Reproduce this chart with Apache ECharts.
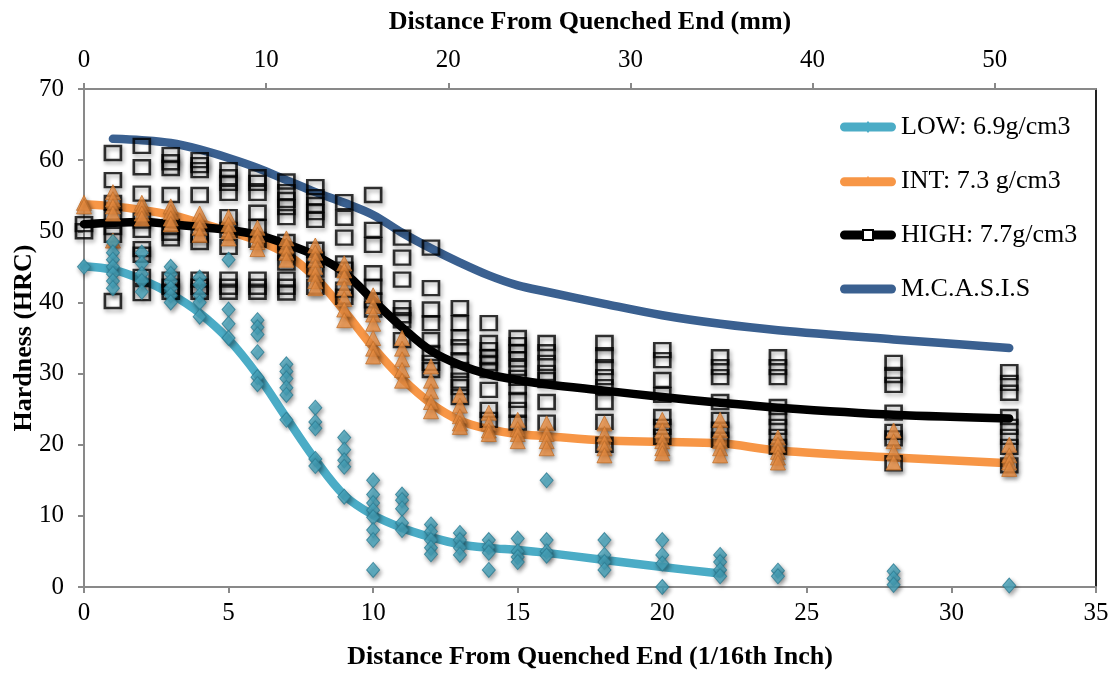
<!DOCTYPE html>
<html>
<head>
<meta charset="utf-8">
<script src="https://cdn.jsdelivr.net/npm/echarts@6/dist/echarts.min.js"></script>
<style>
  html, body { margin: 0; padding: 0; background: #fff; }
  #chart { width: 1116px; height: 673px; }
</style>
</head>
<body>
<div id="chart"></div>
<script>
// distance from quenched end, 1/16th inch
var distances = [0, 1, 2, 3, 4, 5, 6, 7, 8, 9, 10, 11, 12, 13, 14, 15, 16, 18, 20, 22, 24, 28, 32];

// smoothed mean curves (HRC)
var lowCurve = [45.1, 44.6, 43.2, 41.2, 38.5, 34.8, 29.8, 23.8, 17.9, 12.9, 10.1, 8.3, 7, 6, 5.5, 5.2, 4.8, 3.8, 2.8, 1.9];
var intCurve = [53.8, 53.5, 53, 52.3, 51.2, 50, 48.7, 46.8, 43.5, 38.8, 33.7, 29.3, 25.8, 23.4, 22.2, 21.5, 21.2, 20.6, 20.4, 20.2, 19.2, 18.2, 17.4];
var highCurve = [51, 51.2, 51.3, 51, 50.6, 50.2, 49.5, 48.2, 46.6, 44.2, 40.3, 36.5, 33.2, 31.2, 29.9, 29.1, 28.5, 27.6, 26.7, 25.9, 25.2, 24.2, 23.7];
var mcasisDistances = [1, 2, 3, 4, 5, 6, 7, 8, 9, 10, 11, 12, 13, 14, 15, 16, 18, 20, 22, 24, 28, 32];
var mcasisCurve = [63, 62.8, 62.4, 61.5, 60.3, 58.9, 57.2, 55.5, 54, 52.3, 49.8, 47.6, 45.6, 43.8, 42.4, 41.5, 39.8, 38.2, 37, 36.1, 34.8, 33.6];

// measured hardness readings at each distance
var lowReadings = [
  [45],
  [48.5, 47, 46, 45, 44, 43, 42],
  [47, 45.5, 44, 43, 41.5],
  [45, 44, 43, 42, 41, 40],
  [43.5, 42.5, 41, 40, 38],
  [46, 39, 37, 35],
  [37.5, 36.5, 35.5, 33, 29.5, 28.5],
  [31.3, 30.3, 29.3, 28, 27, 23.5],
  [25.2, 23.2, 22.3, 18, 17],
  [21, 19.3, 17.8, 16.9, 12.7],
  [15, 13, 11.8, 10.8, 9.8, 8, 6.6, 2.4],
  [13, 12.2, 11, 9, 8],
  [8.8, 7.8, 6.6, 5.5, 4.6],
  [7.6, 6.6, 5.5, 4.5],
  [6.6, 5.6, 4.8, 2.4],
  [6.8, 5, 4.2, 3.5],
  [15, 6.6, 5, 4.4],
  [6.6, 4.5, 3.5, 2.4],
  [6.6, 4.5, 3.3, 0],
  [4.5, 3.5, 2.4, 1.5],
  [2.3, 1.5],
  [2.2, 1.2, 0.3],
  [0.2]
];
var intReadings = [
  [54, 53.5],
  [55.5, 54.5, 53.5, 52.5, 48.7],
  [54, 53.3, 52.5, 51.8],
  [53.5, 52.7, 51.8, 51],
  [52.5, 51.5, 50.5, 49.5],
  [52, 51, 50, 49],
  [50.5, 49.5, 48.5, 47.5],
  [49, 48, 47, 46],
  [48, 47, 46, 45, 44, 43, 42],
  [45.5, 44.5, 43.5, 42, 40.5, 39, 37.5],
  [41, 39.5, 38.3, 37, 35, 33.5, 32.4],
  [35, 33.5, 32, 30.5, 29],
  [31, 29, 27.5, 26, 24.7],
  [27, 25.5, 24, 23, 22.5],
  [24.5, 23, 22, 21.5],
  [23.5, 22.2, 21.5, 20.5],
  [23, 21.5, 20.5, 19.5],
  [23, 21.5, 20.3, 19.5, 18.5],
  [23.5, 22, 20.5, 19.5, 18.8],
  [23.5, 22, 20.5, 19.5, 18.5],
  [21, 20, 19, 18.2, 17.5],
  [22, 20.5, 19, 17.5],
  [20, 18.5, 17.5, 16.6]
];
var highReadings = [
  [51, 50],
  [61, 57.2, 54, 52, 50.6, 49.5, 40.2],
  [62, 59, 55.3, 51.5, 50.2, 47.5, 46.7, 43.6, 41.3],
  [60.7, 59.7, 58.9, 55.1, 50.6, 49.8, 49, 43.2, 42.2, 41.5],
  [60, 59.3, 58.6, 55.1, 49.5, 48.5, 43.2, 42.2, 41.5],
  [58.6, 57.6, 56.8, 55.4, 52, 50.2, 47.8, 43.2, 42.2, 41.5],
  [57.6, 56.8, 55.4, 52.6, 50.6, 48.8, 43.2, 42.2, 41.5],
  [57, 55.5, 54.4, 53.4, 52, 48.5, 47, 45.6, 43.2, 42.2, 41.4],
  [56.2, 54.8, 53.7, 52.7, 51.6, 47.4, 46, 44.6, 42.2],
  [54.1, 51.9, 49.1, 45.5, 44.6, 41.8, 40.8],
  [55.1, 50.2, 48.1, 44.1, 42.2, 40.3, 39],
  [49.1, 46.3, 43.2, 39.2, 38.2, 37.5, 34.7],
  [47.7, 42, 39, 37.1, 34.7, 32.9, 31.5, 30.5],
  [39.2, 37.1, 35.1, 33.7, 31.9, 30.5, 29, 28.1, 26.7],
  [37.1, 34.3, 33.3, 32.3, 31.5, 30.5, 27.7, 24.9, 23.5],
  [35, 34, 33, 32, 30.8, 29.4, 28.1, 26.3, 24.9, 23.1],
  [34.3, 33, 31.5, 30.1, 29.1, 26, 23.1],
  [34.3, 32.6, 30.9, 29.5, 28.1, 26, 23.2, 20],
  [33.3, 31.9, 29.1, 27, 23.9, 22.5, 21.1],
  [32.3, 30.9, 29.5, 26, 23.5, 22.1, 20.7],
  [32.3, 30.9, 29.5, 25.3, 23.9, 22.5, 21.1, 19.7],
  [31.5, 29.8, 28.4, 24.5, 21.8, 20.9, 17.4],
  [30.2, 28.7, 27.3, 23.9, 22.5, 21.1, 19.7, 17.1]
];

var seriesNames = ['LOW: 6.9g/cm3', 'INT: 7.3 g/cm3', 'HIGH: 7.7g/cm3', 'M.C.A.S.I.S'];
var bottomTicks = [0, 5, 10, 15, 20, 25, 30, 35];
var topTicksMm = [0, 10, 20, 30, 40, 50];
var yTicks = [0, 10, 20, 30, 40, 50, 60, 70];

function toPairs(xs, ys) {
  return ys.map(function (v, i) { return [xs[i], v]; });
}
function toPoints(xs, groups) {
  var out = [];
  groups.forEach(function (g, i) {
    g.forEach(function (v) { out.push([xs[i], v]); });
  });
  return out;
}

var font = 'Liberation Serif';
var gray = '#898989';
var shadow = { shadowBlur: 4, shadowColor: 'rgba(0,0,0,0.45)', shadowOffsetX: 1.5, shadowOffsetY: 2.5 };

var bar = 'M4.5,2.5 L51.5,2.5 A4.5,4.5 0 0 1 51.5,11.5 L4.5,11.5 A4.5,4.5 0 0 1 4.5,2.5 Z ';
var icons = [
  'path://' + bar + 'M28,1 L33,7 L28,13 L23,7 Z',
  'path://' + bar + 'M28,1 L33,10 L23,10 Z',
  'path://' + bar + 'M22,1 L34,1 L34,13 L22,13 Z M24,3 L24,11 L32,11 L32,3 Z M24,3 L24,11 L32,11 L32,3 Z',
  'path://' + bar
];

function curve(name, xs, ys, color) {
  return {
    name: name, type: 'line', xAxisIndex: 0, yAxisIndex: 0,
    data: toPairs(xs, ys), smooth: 0.35, symbol: 'none',
    itemStyle: { color: color },
    lineStyle: { color: color, width: 8.5, cap: 'round', join: 'round' },
    z: 2
  };
}

var option = {
  animation: false,
  backgroundColor: '#fff',
  grid: { left: 84, right: 20, top: 89, bottom: 86, containLabel: false, outerBoundsMode: 'none' },
  legend: {
    orient: 'vertical', left: 835, top: 109,
    itemWidth: 56, itemHeight: 14, itemGap: 28,
    data: seriesNames.map(function (n, i) { return { name: n, icon: icons[i] }; }),
    textStyle: { fontFamily: font, fontSize: 26, color: '#000' },
    selectedMode: false
  },
  xAxis: [{
    type: 'value', position: 'bottom', min: 0, max: 35, interval: 5,
    name: 'Distance From Quenched End (1/16th Inch)', nameLocation: 'middle', nameGap: 57,
    nameMoveOverlap: false,
    nameTextStyle: { fontFamily: font, fontSize: 26, fontWeight: 'bold', color: '#000' },
    axisLine: { onZero: false, lineStyle: { color: gray, width: 2 } },
    axisTick: { inside: false, length: 6, lineStyle: { color: gray, width: 2 } },
    axisLabel: { margin: 14, fontFamily: font, fontSize: 25, color: '#000',
      customValues: bottomTicks },
    splitLine: { show: false }
  }, {
    type: 'value', position: 'top', min: 0, max: 35 * 1.5875,
    name: 'Distance From Quenched End (mm)', nameLocation: 'middle', nameGap: 54,
    nameMoveOverlap: false,
    nameTextStyle: { fontFamily: font, fontSize: 26, fontWeight: 'bold', color: '#000' },
    axisLine: { onZero: false, lineStyle: { color: gray, width: 2 } },
    axisTick: { length: 6, lineStyle: { color: gray, width: 2 }, customValues: topTicksMm },
    axisLabel: { margin: 16, fontFamily: font, fontSize: 25, color: '#000', customValues: topTicksMm },
    splitLine: { show: false }
  }],
  yAxis: [{
    type: 'value', min: 0, max: 70, interval: 10,
    name: 'Hardness (HRC)', nameLocation: 'middle', nameGap: 47, nameRotate: 90,
    nameMoveOverlap: false,
    nameTextStyle: { fontFamily: font, fontSize: 26, fontWeight: 'bold', color: '#000' },
    axisLine: { show: true, onZero: false, lineStyle: { color: gray, width: 2 } },
    axisTick: { show: true, length: 6, lineStyle: { color: gray, width: 2 } },
    axisLabel: { margin: 20, fontFamily: font, fontSize: 25, color: '#000', customValues: yTicks },
    splitLine: { show: false }
  }, {
    type: 'value', min: 0, max: 70, position: 'right',
    axisLine: { show: true, onZero: false, lineStyle: { color: '#222', width: 2 } },
    axisTick: { show: false }, axisLabel: { show: false }, splitLine: { show: false }
  }],
  series: [
    curve(seriesNames[1], distances, intCurve, '#f79646'),
    curve(seriesNames[0], distances.slice(0, lowCurve.length), lowCurve, '#4bacc6'),
    curve(seriesNames[2], distances, highCurve, '#000000'),
    curve(seriesNames[3], mcasisDistances, mcasisCurve, '#3a6090'),
    {
      name: 'HIGH points', type: 'scatter', data: toPoints(distances, highReadings),
      symbol: 'rect', symbolSize: [16, 14],
      itemStyle: Object.assign({ color: 'rgba(255,255,255,0)', borderColor: '#000', borderWidth: 2.5 }, shadow),
      z: 3
    },
    {
      name: 'INT points', type: 'scatter', data: toPoints(distances, intReadings),
      symbol: 'triangle', symbolSize: [15, 15],
      itemStyle: Object.assign({ color: '#f79646', borderColor: '#c2702c', borderWidth: 1 }, shadow),
      z: 4
    },
    {
      name: 'LOW points', type: 'scatter', data: toPoints(distances, lowReadings),
      symbol: 'diamond', symbolSize: [13, 15],
      itemStyle: Object.assign({ color: '#4bacc6', borderColor: '#2d7c92', borderWidth: 1 }, shadow),
      z: 5
    }
  ]
};

var myChart = echarts.init(document.getElementById('chart'));
myChart.setOption(option);
</script>
</body>
</html>
